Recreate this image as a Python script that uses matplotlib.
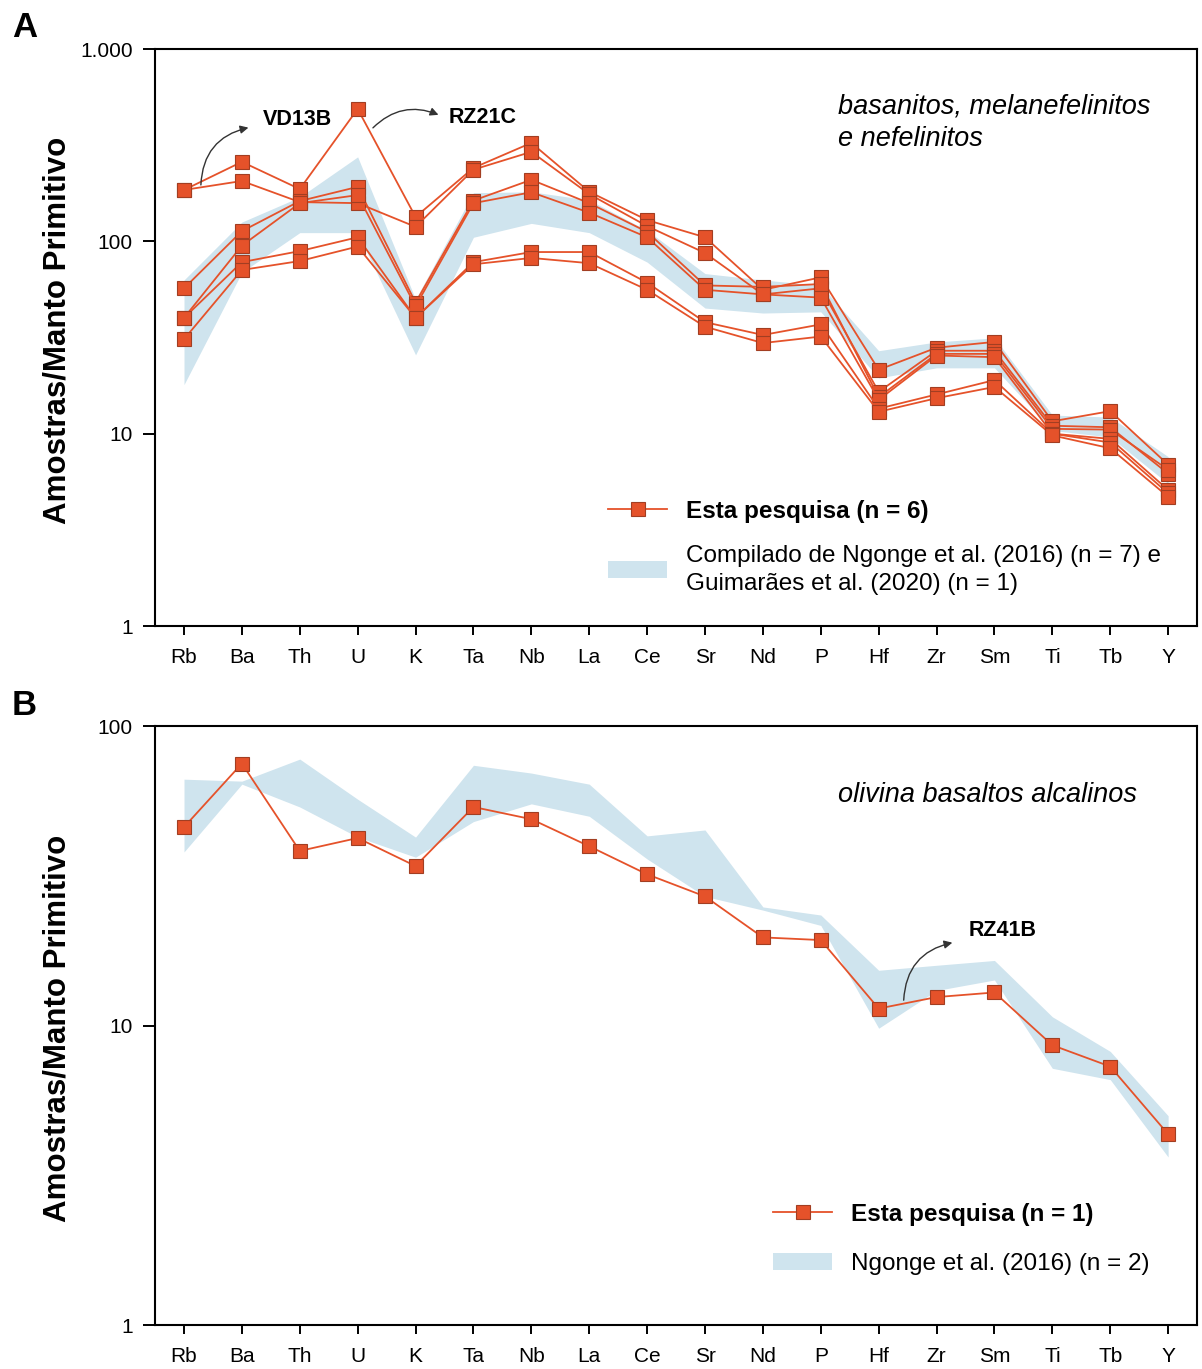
import matplotlib
matplotlib.use('Agg')
import matplotlib.pyplot as plt
from matplotlib.lines import Line2D
from matplotlib.patches import Patch
from matplotlib.ticker import FixedLocator, FuncFormatter, NullLocator
import numpy as np

plt.rcParams['font.family'] = ['Liberation Sans', 'DejaVu Sans']

elements = ['Rb', 'Ba', 'Th', 'U', 'K', 'Ta', 'Nb', 'La', 'Ce', 'Sr',
            'Nd', 'P', 'Hf', 'Zr', 'Sm', 'Ti', 'Tb', 'Y']

# A: basanitos / melanefelinitos / nefelinitos (normalised to primitive mantle)
rz21c = [185, 259, 187, 488, 134, 241, 325, 181, 129, 105, 56, 65, 21.5, 28, 30, 11.6, 13.1, 6.9]
vd13b = [185, 206, 160, 158, 119, 236, 292, 176, 120, 87, 53, 57, 16.5, 27, 27, 11.0, 10.8, 6.2]
amostra_3 = [57, 113, 162, 192, 48, 163, 209, 158, 112, 59, 58, 60, 15.5, 26, 26, 10.6, 10.5, 6.5]
amostra_4 = [40, 95, 158, 174, 46, 158, 180, 141, 105, 56, 53, 51, 15.0, 25.5, 25, 10.0, 9.4, 5.1]
amostra_5 = [40, 78, 89, 105, 40, 78, 88, 88, 61, 38, 32.6, 37, 13.5, 16, 19, 10.0, 9.0, 4.9]
amostra_6 = [31, 71, 79, 94, 40, 76, 82, 77, 56, 36, 29.6, 32, 13.0, 15.3, 17.5, 9.8, 8.4, 4.7]
series_a = [rz21c, vd13b, amostra_3, amostra_4, amostra_5, amostra_6]

# compiled field (Ngonge et al. 2016 + Guimaraes et al. 2020)
campo_a_max = [63, 126, 170, 275, 50, 179, 181, 164, 114, 68, 63, 59, 27, 30, 31.5, 12.5, 12.2, 7.6]
campo_a_min = [18, 69, 111, 111, 25.7, 105, 124, 111, 78, 45, 42.4, 43, 19.5, 22, 22, 10.4, 9.6, 5.5]

# B: olivina basaltos alcalinos
rz41b = [46, 75, 38.3, 42.3, 34.1, 53.7, 48.9, 39.7, 32, 27, 19.7, 19.3, 11.4, 12.45, 12.9, 8.6, 7.3, 4.34]
campo_b_max = [66.5, 65.5, 77.6, 57, 42.6, 74, 69.7, 64, 43, 45, 24.9, 23.4, 15.3, 15.9, 16.5, 10.7, 8.2, 5.0]
campo_b_min = [38, 64, 53.7, 42.6, 36.5, 48, 55, 50, 36, 27, 24.3, 21.6, 9.8, 13.1, 14.2, 7.2, 6.6, 3.64]

orange = '#E5522A'
orange_edge = '#A23E22'
blue = '#CFE4EE'
x = np.arange(len(elements))

fig = plt.figure(figsize=(12.02, 13.69), dpi=100)
ax_a = fig.add_axes([0.129, 0.5427, 0.8669, 0.4215])
ax_b = fig.add_axes([0.129, 0.0321, 0.8669, 0.4375])


def fmt_tick(v, pos):
    if v >= 1000:
        return '1.000'
    return '%d' % v


def style_axes(ax, top, label_y):
    ax.set_yscale('log')
    ax.set_ylim(1, top)
    ax.set_xlim(-0.5, len(elements) - 0.5)
    decades = [10 ** i for i in range(int(np.log10(top)) + 1)]
    ax.yaxis.set_major_locator(FixedLocator(decades))
    ax.yaxis.set_major_formatter(FuncFormatter(fmt_tick))
    ax.yaxis.set_minor_locator(NullLocator())
    ax.set_xticks(x)
    ax.set_xticklabels(elements)
    ax.tick_params(axis='y', direction='out', length=9, width=1.4, labelsize=15, pad=7)
    ax.tick_params(axis='x', direction='out', length=6.5, width=1.4, labelsize=15, pad=9)
    for s in ax.spines.values():
        s.set_linewidth(1.5)
    ax.set_ylabel('Amostras/Manto Primitivo', fontsize=22.5, fontweight='bold')
    ax.yaxis.set_label_coords(-0.079, label_y)


def draw_sample(ax, vals):
    ax.plot(x, vals, color=orange, lw=1.3, marker='s', markersize=10,
            markerfacecolor=orange, markeredgecolor=orange_edge,
            markeredgewidth=0.8, zorder=3)


def sample_handle():
    return Line2D([], [], color=orange, lw=1.3, marker='s', markersize=10,
                  markerfacecolor=orange, markeredgecolor=orange_edge, markeredgewidth=0.8)


legend_kw = dict(loc='upper left', bbox_transform=fig.transFigure, frameon=False,
                 fontsize=17.5, handlelength=2.43, handletextpad=0.78,
                 borderpad=0, borderaxespad=0)

# --- panel A ---
style_axes(ax_a, 1000, 0.512)
ax_a.fill_between(x, campo_a_min, campo_a_max, color=blue, lw=0, zorder=1)
for s in series_a:
    draw_sample(ax_a, s)

arrow = dict(arrowstyle='-|>', color='#333333', lw=1.0, mutation_scale=12)
ax_a.annotate('', xy=(1.16, 393), xytext=(0.29, 190),
              arrowprops=dict(arrow, connectionstyle='arc3,rad=-0.4'))
ax_a.text(1.36, 428, 'VD13B', fontsize=15.5, fontweight='bold', va='center', ha='left')
ax_a.annotate('', xy=(4.44, 449), xytext=(3.23, 380),
              arrowprops=dict(arrow, connectionstyle='arc3,rad=-0.35'))
ax_a.text(4.57, 443, 'RZ21C', fontsize=15.5, fontweight='bold', va='center', ha='left')

ax_a.text(0.655, 0.923, 'basanitos, melanefelinitos\ne nefelinitos', transform=ax_a.transAxes,
          fontsize=19.5, style='italic', va='top', ha='left', linespacing=1.35)

leg_a = ax_a.legend([sample_handle(), Patch(facecolor=blue, edgecolor='none')],
                    ['Esta pesquisa (n = 6)',
                     'Compilado de Ngonge et al. (2016) (n = 7) e\nGuimarães et al. (2020) (n = 1)'],
                    bbox_to_anchor=(608 / 1202, 1 - 500 / 1369), labelspacing=0.9, **legend_kw)
leg_a.get_texts()[0].set_fontweight('bold')
leg_a.get_texts()[1].set_linespacing(1.35)

# --- panel B ---
style_axes(ax_b, 100, 0.496)
ax_b.fill_between(x, campo_b_min, campo_b_max, color=blue, lw=0, zorder=1)
draw_sample(ax_b, rz41b)

ax_b.annotate('', xy=(13.32, 19), xytext=(12.43, 11.9),
              arrowprops=dict(arrow, connectionstyle='arc3,rad=-0.4'))
ax_b.text(13.55, 20.8, 'RZ41B', fontsize=15.5, fontweight='bold', va='center', ha='left')

ax_b.text(0.655, 0.885, 'olivina basaltos alcalinos', transform=ax_b.transAxes,
          fontsize=19.5, style='italic', va='center', ha='left')

leg_b = ax_b.legend([sample_handle(), Patch(facecolor=blue, edgecolor='none')],
                    ['Esta pesquisa (n = 1)', 'Ngonge et al. (2016) (n = 2)'],
                    bbox_to_anchor=(773 / 1202, 1 - 1203 / 1369), labelspacing=1.1, **legend_kw)
leg_b.get_texts()[0].set_fontweight('bold')

fig.text(12 / 1202, 1 - 37 / 1369, 'A', fontsize=25, fontweight='bold', ha='left', va='baseline')
fig.text(12 / 1202, 1 - 715 / 1369, 'B', fontsize=25, fontweight='bold', ha='left', va='baseline')

fig.savefig('out.png', dpi=100, facecolor='white')
